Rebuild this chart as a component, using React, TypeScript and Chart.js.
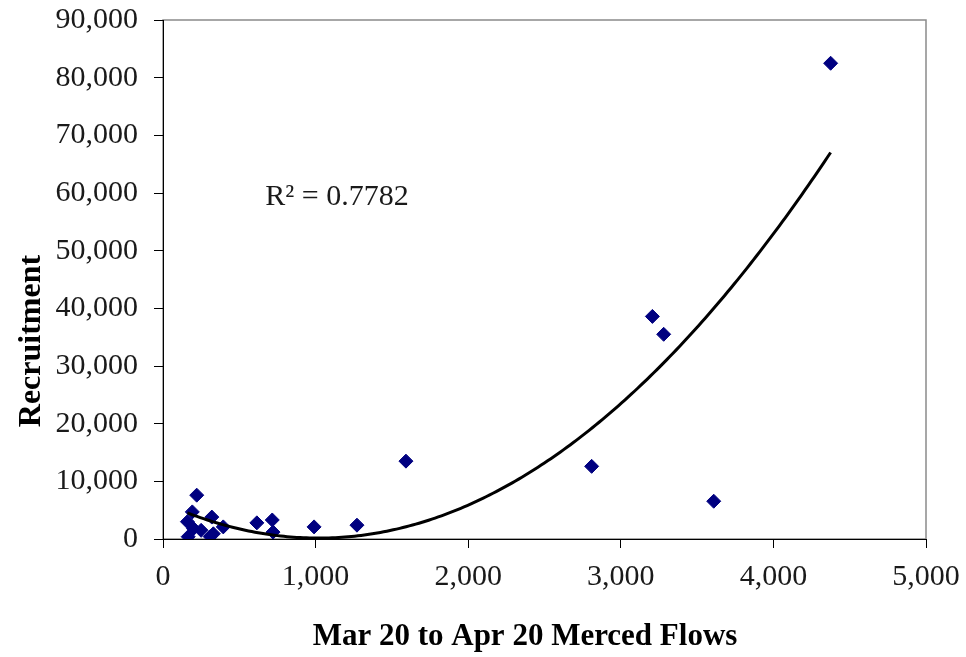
import React, { useEffect, useRef } from "react";
import { Chart, registerables } from "chart.js";

Chart.register(...registerables);

// ---- Data ----
const flows = [165, 160, 192, 221, 200, 250, 320, 330, 310, 395, 615, 716, 721, 990, 1271, 1592, 2809, 3207, 3281, 3609, 4375];
const recruitment = [400, 3000, 4700, 7600, 1800, 1500, 3800, 900, 400, 2100, 2800, 3300, 1200, 2100, 2400, 13500, 12600, 38600, 35500, 6550, 82500];
const xTickValues = [0, 1000, 2000, 3000, 4000, 5000];
const yTickValues = [0, 10000, 20000, 30000, 40000, 50000, 60000, 70000, 80000, 90000];
const xTitle = "Mar 20 to Apr 20 Merced Flows";
const yTitle = "Recruitment";
const rSquaredLabel = "R\u00B2 = 0.7782";
const rLabelAt = { x: 670, y: 57900 };

// Least-squares quadratic fit (Excel polynomial trendline, order 2)
function fitQuadratic(xs: number[], ys: number[]) {
  const n = xs.length;
  const m = xs.reduce((s, v) => s + v, 0) / n;
  const S = [0, 0, 0, 0, 0];
  const T = [0, 0, 0];
  for (let i = 0; i < n; i++) {
    const u = xs[i] - m;
    for (let k = 0; k < 5; k++) S[k] += Math.pow(u, k);
    for (let k = 0; k < 3; k++) T[k] += ys[i] * Math.pow(u, k);
  }
  const A = [
    [S[0], S[1], S[2], T[0]],
    [S[1], S[2], S[3], T[1]],
    [S[2], S[3], S[4], T[2]],
  ];
  for (let c = 0; c < 3; c++) {
    let p = c;
    for (let r = c + 1; r < 3; r++) if (Math.abs(A[r][c]) > Math.abs(A[p][c])) p = r;
    [A[c], A[p]] = [A[p], A[c]];
    for (let r = 0; r < 3; r++) {
      if (r === c) continue;
      const f = A[r][c] / A[c][c];
      for (let k = c; k < 4; k++) A[r][k] -= f * A[c][k];
    }
  }
  const c0 = A[0][3] / A[0][0];
  const c1 = A[1][3] / A[1][1];
  const c2 = A[2][3] / A[2][2];
  return (x: number) => c0 + c1 * (x - m) + c2 * (x - m) * (x - m);
}

const decorPlugin = {
  id: "decor",
  beforeDraw(chart: any) {
    const { ctx, chartArea: a } = chart;
    ctx.save();
    ctx.strokeStyle = "#8a8a8a";
    ctx.lineWidth = 1.5;
    ctx.strokeRect(a.left, a.top, a.right - a.left, a.bottom - a.top);
    ctx.restore();
  },
  afterDraw(chart: any) {
    const { ctx, chartArea: a, scales } = chart;
    ctx.save();
    ctx.fillStyle = "#000";
    ctx.textBaseline = "alphabetic";
    // x title
    ctx.font = "bold 31px 'Liberation Serif', 'Times New Roman', serif";
    ctx.textAlign = "center";
    ctx.fillText(xTitle, a.left + 362, a.bottom + 106);
    // y title
    ctx.save();
    ctx.font = "bold 32px 'Liberation Serif', 'Times New Roman', serif";
    ctx.translate(a.left - 123, a.bottom - 198);
    ctx.rotate(-Math.PI / 2);
    ctx.textAlign = "center";
    ctx.fillText(yTitle, 0, 0);
    ctx.restore();
    // R² label
    ctx.font = "30px 'Liberation Serif', 'Times New Roman', serif";
    ctx.textAlign = "left";
    ctx.fillStyle = "#1a1a1a";
    ctx.fillText(rSquaredLabel, scales.x.getPixelForValue(rLabelAt.x), scales.y.getPixelForValue(rLabelAt.y));
    ctx.restore();
  },
};

export default function App() {
  const ref = useRef<HTMLCanvasElement | null>(null);

  useEffect(() => {
    document.body.style.margin = "0";
    if (!ref.current) return;
    const fit = fitQuadratic(flows, recruitment);
    const xMin = Math.min(...flows);
    const xMax = Math.max(...flows);
    const trend: { x: number; y: number }[] = [];
    const steps = 200;
    for (let i = 0; i <= steps; i++) {
      const x = xMin + ((xMax - xMin) * i) / steps;
      trend.push({ x, y: fit(x) });
    }
    const points = flows.map((x, i) => ({ x, y: recruitment[i] }));
    const tickFont = { family: "'Liberation Serif', 'Times New Roman', serif", size: 30 };

    const chart = new Chart(ref.current, {
      type: "scatter",
      data: {
        datasets: [
          {
            label: "Recruitment",
            data: points,
            pointStyle: "rectRot",
            pointRadius: 7,
            pointHoverRadius: 7,
            backgroundColor: "#000080",
            borderColor: "#000080",
            borderWidth: 1,
            order: 1,
          },
          {
            label: "Poly. (Recruitment)",
            data: trend,
            showLine: true,
            pointRadius: 0,
            borderColor: "#000",
            borderWidth: 3,
            tension: 0,
            order: 0,
          } as any,
        ],
      },
      options: {
        animation: false,
        responsive: true,
        maintainAspectRatio: false,
        layout: { padding: { top: 20, right: 40, left: 0, bottom: 0 } },
        plugins: { legend: { display: false }, tooltip: { enabled: false } },
        scales: {
          x: {
            type: "linear",
            min: 0,
            max: 5000,
            afterBuildTicks: (s: any) => {
              s.ticks = xTickValues.map((v) => ({ value: v }));
            },
            afterFit: (s: any) => {
              s.height = 118;
              s.paddingLeft = 0;
              s.paddingRight = 0;
            },
            ticks: {
              font: tickFont,
              color: "#1a1a1a",
              padding: 11,
              maxRotation: 0,
              callback: (v: any) => Number(v).toLocaleString("en-US"),
            },
            grid: { drawOnChartArea: false, drawTicks: true, tickLength: 9, color: "#000" },
            border: { display: true, color: "#000", width: 1 },
          },
          y: {
            type: "linear",
            min: 0,
            max: 90000,
            afterBuildTicks: (s: any) => {
              s.ticks = yTickValues.map((v) => ({ value: v }));
            },
            afterFit: (s: any) => {
              s.width = 163;
              s.paddingTop = 0;
              s.paddingBottom = 0;
            },
            ticks: {
              font: tickFont,
              color: "#1a1a1a",
              padding: 16,
              callback: (v: any) => Number(v).toLocaleString("en-US"),
            },
            grid: { drawOnChartArea: false, drawTicks: true, tickLength: 9, color: "#000" },
            border: { display: true, color: "#000", width: 1 },
          },
        },
      },
      plugins: [decorPlugin],
    });
    return () => chart.destroy();
  }, []);

  return (
    <div style={{ width: 966, height: 657, position: "relative", background: "#fff" }}>
      <canvas ref={ref} />
    </div>
  );
}
